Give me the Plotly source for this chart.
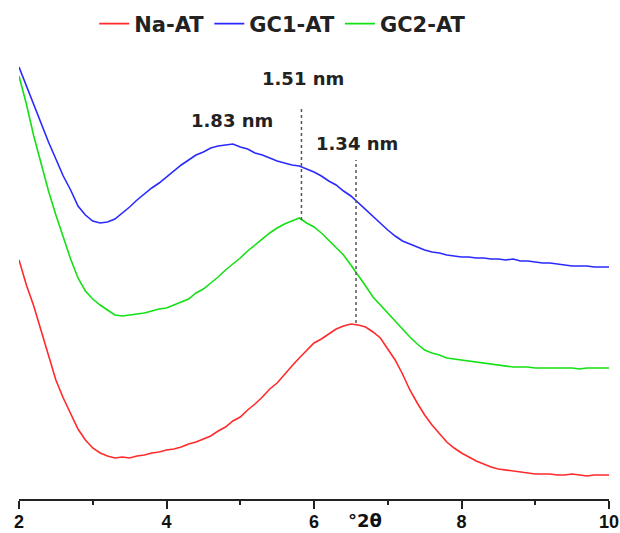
import plotly.graph_objects as go

two_theta = [round(2.0 + 0.1 * i, 1) for i in range(81)]

na_at = [239, 214, 193, 168, 143, 119, 101, 85, 70, 59,
         51, 46, 43, 41, 42, 41, 43, 44, 46, 47,
         49, 50, 52, 55, 57, 60, 63, 68, 72, 78,
         82, 89, 95, 102, 110, 116, 125, 133, 141, 149,
         156, 160, 165, 170, 173, 175, 174, 172, 167, 161,
         150, 139, 125, 109, 96, 84, 74, 65, 57, 51,
         46, 42, 38, 35, 32, 30, 29, 28, 27, 26,
         25, 25, 25, 24, 24, 25, 24, 23, 24, 24, 24]

gc1_at = [432, 413, 395, 376, 357, 340, 323, 309, 293, 284,
          278, 276, 277, 280, 286, 292, 299, 305, 311, 316,
          322, 328, 334, 339, 344, 347, 351, 353, 354, 355,
          352, 350, 346, 344, 341, 338, 336, 334, 333, 330,
          327, 323, 318, 314, 308, 303, 296, 289, 282, 276,
          269, 263, 258, 255, 252, 249, 247, 246, 244, 243,
          242, 242, 241, 241, 240, 240, 239, 240, 238, 238,
          237, 236, 236, 235, 234, 233, 233, 233, 232, 232, 232]

gc2_at = [423, 395, 363, 336, 308, 284, 262, 240, 221, 208,
          200, 194, 189, 184, 183, 184, 185, 186, 188, 190,
          191, 194, 197, 200, 206, 210, 216, 222, 229, 235,
          241, 248, 254, 260, 266, 271, 275, 278, 281, 276,
          272, 266, 259, 252, 244, 234, 224, 213, 202, 194,
          185, 178, 170, 162, 155, 149, 146, 144, 141, 140,
          139, 138, 137, 136, 135, 134, 133, 132, 132, 132,
          131, 131, 131, 131, 131, 131, 130, 131, 131, 131, 131]

series_names = ["Na-AT", "GC1-AT", "GC2-AT"]
series_values = [na_at, gc1_at, gc2_at]
series_colors = ["#ff2a2a", "#2a2aff", "#14e014"]

peak_positions = [5.83, 6.57]
peak_labels = ["1.83 nm", "1.51 nm", "1.34 nm"]
x_ticks = [2, 4, 6, 8, 10]

fig = go.Figure()
for name, vals, col in zip(series_names, series_values, series_colors):
    fig.add_trace(go.Scatter(x=two_theta, y=vals, mode="lines", name=name,
                             line=dict(color=col, width=1.6)))

# dotted guide lines
fig.add_shape(type="line", x0=peak_positions[0], x1=peak_positions[0], y0=279, y1=392,
              line=dict(color="#555555", width=1.5, dash="dot"))
fig.add_shape(type="line", x0=peak_positions[1], x1=peak_positions[1], y0=176, y1=339,
              line=dict(color="#555555", width=1.5, dash="dot"))

afont = dict(family="DejaVu Sans", size=18, color="#222222", weight="bold")
fig.add_annotation(x=4.89, y=379, text=peak_labels[0], showarrow=False, font=afont)
fig.add_annotation(x=5.85, y=421, text=peak_labels[1], showarrow=False, font=afont)
fig.add_annotation(x=6.58, y=356, text=peak_labels[2], showarrow=False, font=afont)

fig.add_annotation(x=6.69, xref="x", y=-21 / 459, yref="paper", yanchor="middle",
                   text="°2θ", showarrow=False,
                   font=dict(family="DejaVu Sans", size=18, color="#111111", weight="bold"))

fig.update_layout(
    width=620, height=533,
    margin=dict(l=19, r=11, t=40, b=34, autoexpand=False),
    paper_bgcolor="white", plot_bgcolor="white",
    showlegend=True,
    legend=dict(orientation="h", x=0.447, xanchor="center", y=1.035, yanchor="middle",
                font=dict(family="DejaVu Sans", size=21, color="#222222", weight="bold"),
                bgcolor="rgba(0,0,0,0)", itemwidth=30, tracegroupgap=0),
    xaxis=dict(range=[2, 10], tickvals=x_ticks, ticks="outside", ticklen=8, tickwidth=1.5,
               tickcolor="#222222", showline=True, linecolor="#222222", linewidth=2,
               showgrid=False, zeroline=False, automargin=False, ticklabeloverflow="allow",
               ticklabelstandoff=-3,
               tickfont=dict(family="Liberation Sans", size=18, color="#111111", weight="bold"),
               minor=dict(dtick=1, ticks="outside", ticklen=4, tickwidth=1.5, tickcolor="#222222",
                          showgrid=False)),
    yaxis=dict(range=[0, 459], visible=False, showgrid=False, zeroline=False),
)

fig.write_html("out.html", config={"displayModeBar": False},
               post_script="document.body.style.margin='0px';document.body.style.overflow='hidden';")
